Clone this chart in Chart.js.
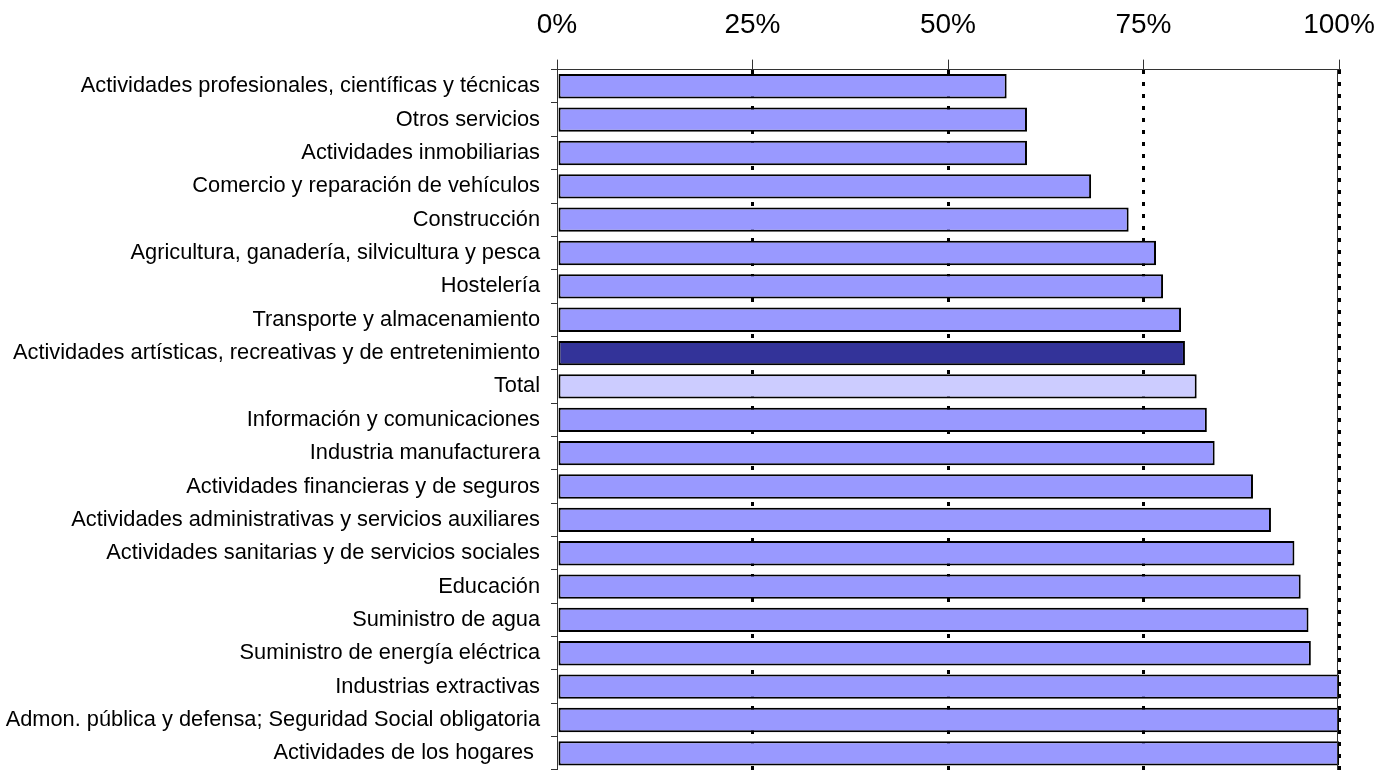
<!DOCTYPE html>
<html>
<head>
<meta charset="utf-8">
<script src="https://cdn.jsdelivr.net/npm/chart.js@4.4.1/dist/chart.umd.min.js"></script>
<style>
  html, body { margin: 0; padding: 0; background: #fff; }
  #wrap { width: 1381px; height: 770px; position: relative; }
</style>
</head>
<body>
<div id="wrap"><canvas id="c"></canvas></div>
<script>
const categories = [
  'Actividades profesionales, científicas y técnicas',
  'Otros servicios',
  'Actividades inmobiliarias',
  'Comercio y reparación de vehículos',
  'Construcción',
  'Agricultura, ganadería, silvicultura y pesca',
  'Hostelería',
  'Transporte y almacenamiento',
  'Actividades artísticas, recreativas y de entretenimiento',
  'Total',
  'Información y comunicaciones',
  'Industria manufacturera',
  'Actividades financieras y de seguros',
  'Actividades administrativas y servicios auxiliares',
  'Actividades sanitarias y de servicios sociales',
  'Educación',
  'Suministro de agua',
  'Suministro de energía eléctrica',
  'Industrias extractivas',
  'Admon. pública y defensa; Seguridad Social obligatoria',
  'Actividades de los hogares '
];
const values = [
  57.5, 60.1, 60.1, 68.3, 73.1, 76.6, 77.5, 79.8, 80.3, 81.8,
  83.1, 84.1, 89.0, 91.3, 94.3, 95.1, 96.1, 96.4, 100, 100, 100
];
const xTickValues = [0, 25, 50, 75, 100];
const xTickLabels = ['0%', '25%', '50%', '75%', '100%'];
const highlightCategory = 'Actividades artísticas, recreativas y de entretenimiento';
const totalCategory = 'Total';

const COLOR_BAR = '#9999FF';
const COLOR_HIGHLIGHT = '#333399';
const COLOR_TOTAL = '#CCCCFF';
const FONT = "'Liberation Sans', Arial, sans-serif";

const rightBorder = {
  id: 'rightBorder',
  afterDatasetsDraw(chart) {
    const a = chart.chartArea, ctx = chart.ctx;
    ctx.save();
    ctx.strokeStyle = '#333';
    ctx.lineWidth = 1;
    ctx.beginPath();
    ctx.moveTo(a.right - 1.5, a.top);
    ctx.lineTo(a.right - 1.5, a.bottom);
    ctx.stroke();
    ctx.restore();
  }
};

new Chart(document.getElementById('c'), {
  type: 'bar',
  data: {
    labels: categories,
    datasets: [{
      data: values,
      backgroundColor: ctx => {
        const lbl = categories[ctx.dataIndex];
        if (lbl === highlightCategory) return COLOR_HIGHLIGHT;
        if (lbl === totalCategory) return COLOR_TOTAL;
        return COLOR_BAR;
      },
      borderColor: '#000',
      borderWidth: 2,
      borderSkipped: false,
      barPercentage: 0.73,
      categoryPercentage: 1.0
    }]
  },
  options: {
    indexAxis: 'y',
    responsive: true,
    maintainAspectRatio: false,
    animation: false,
    layout: { padding: { top: -10, right: 0, bottom: 0, left: 0 } },
    plugins: { legend: { display: false }, tooltip: { enabled: false } },
    scales: {
      x: {
        position: 'top',
        min: 0, max: 100,
        afterBuildTicks: s => { s.ticks = xTickValues.map(v => ({ value: v })); },
        afterFit: s => { s.paddingLeft = 0; s.paddingRight = 42; },
        ticks: {
          callback: (v) => xTickLabels[xTickValues.indexOf(v)],
          font: { family: FONT, size: 28 },
          color: '#000',
          padding: 18,
          maxRotation: 0
        },
        grid: {
          color: c => (c.tick && c.tick.value === 0) ? 'rgba(0,0,0,0)' : '#000',
          lineWidth: 3,
          tickColor: '#333',
          tickWidth: 1,
          tickBorderDash: [],
          tickLength: 10
        },
        border: { display: true, color: '#333', width: 1, dash: [4, 8] }
      },
      y: {
        afterFit: s => { s.width = 557; s.paddingTop = 0; s.paddingBottom = 0; },
        ticks: {
          font: { family: FONT, size: 21.8 },
          color: '#000',
          padding: 11,
          autoSkip: false
        },
        grid: {
          offset: true,
          drawOnChartArea: false,
          tickLength: 6,
          tickColor: '#333',
          lineWidth: 1
        },
        border: { display: true, color: '#333', width: 1 }
      }
    }
  },
  plugins: [rightBorder]
});
</script>
</body>
</html>
